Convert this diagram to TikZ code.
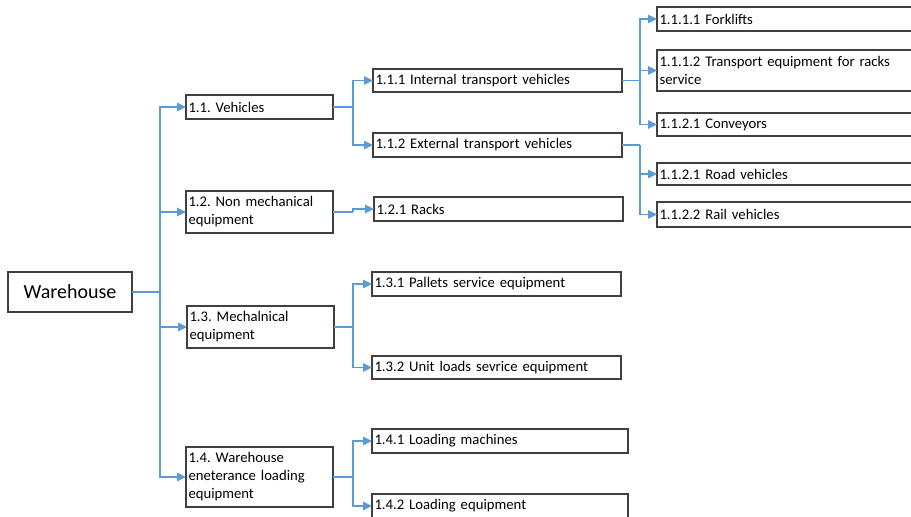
\documentclass[tikz,border=0pt]{standalone}
\usepackage{fontspec}
\setmainfont{Carlito}
\usetikzlibrary{arrows.meta}
\definecolor{cornflower}{RGB}{91, 155, 213}
\definecolor{boxgray}{RGB}{64, 64, 64}
\frenchspacing

\begin{document}
\begin{tikzpicture}[x=1pt, y=-1pt,
    box/.style={draw=boxgray, line width=1.1pt, anchor=north west, outer sep=0pt,
                inner xsep=2.5pt, inner ysep=0pt, align=left,
                font=\fontsize{14.7}{18}\selectfont},
    lone/.style={box, minimum width=147, text width=142pt},
    ltwo/.style={box, minimum width=249, text width=244pt},
    lfour/.style={box, minimum width=256, text width=251pt},
    lthree/.style={box, minimum width=262, text width=257pt},
    link/.style={cornflower, line width=1.4pt},
    arr/.style={link, -{Triangle[length=9pt, width=8.5pt]}}]
            \useasboundingbox (0, 0) rectangle (911, 517);
            % Root
            \node[box, minimum width=124, minimum height=40, align=center,
                  font=\fontsize{20}{24}\selectfont] (wh) at (  8, 272) {Warehouse};
            % Level 1
            \node[lone,  minimum height=24] (n11)  at (186,  95) {1.1. Vehicles};
            \node[lone,  minimum height=42] (n12)  at (186, 191) {1.2. Non mechanical\\equipment};
            \node[lone,  minimum height=42] (n13)  at (187, 306) {1.3. Mechalnical\\equipment};
            \node[lone,  minimum height=60] (n14)  at (186, 447) {1.4. Warehouse\\eneterance loading\\equipment};
            % Level 2
            \node[ltwo,  minimum height=23] (n111) at (373,  69) {1.1.1 Internal transport vehicles};
            \node[ltwo,  minimum height=24] (n112) at (373, 133) {1.1.2 External transport vehicles};
            \node[ltwo,  minimum height=24] (n121) at (374, 197) {1.2.1 Racks};
            \node[ltwo,  minimum height=24] (n131) at (372, 272) {1.3.1 Pallets service equipment};
            \node[ltwo,  minimum height=23] (n132) at (372, 356) {1.3.2 Unit loads sevrice equipment};
            \node[lfour, minimum height=24] (n141) at (372, 429) {1.4.1 Loading machines};
            \node[lfour, minimum height=24] (n142) at (372, 494) {1.4.2 Loading equipment};
            % Level 3
            \node[lthree, minimum height=24] (n1111) at (657,   7) {1.1.1.1 Forklifts};
            \node[lthree, minimum height=41] (n1112) at (657,  50) {1.1.1.2 Transport equipment for racks\\service};
            \node[lthree, minimum height=23] (n1113) at (657, 113) {1.1.2.1 Conveyors};
            \node[lthree, minimum height=22] (n1121) at (657, 163) {1.1.2.1 Road vehicles};
            \node[lthree, minimum height=25] (n1122) at (657, 202) {1.1.2.2 Rail vehicles};
            % Branch points
            \coordinate (b0)  at (160, 292);
            \coordinate (b1)  at (353, 107);
            \coordinate (b2)  at (353, 212);
            \coordinate (b3)  at (353, 327);
            \coordinate (b4)  at (353, 477);
            \coordinate (b11) at (640,  80.5);
            \coordinate (b12) at (640, 145);
            % Root -> level 1
            \draw[link] (wh.east) -- (b0);
            \foreach \n in {n11, n12, n13, n14}
                \draw[arr] (b0) |- (\n.west);
            % Level 1 -> level 2
            \draw[link] (n11.east) -- (b1);
            \draw[arr]  (b1) |- (n111.west);
            \draw[arr]  (b1) |- (n112.west);
            \draw[link] (n12.east) -- (b2);
            \draw[arr]  (b2) |- (n121.west);
            \draw[link] (n13.east) -- (b3);
            \draw[arr]  (b3) |- (n131.west);
            \draw[arr]  (b3) |- (n132.west);
            \draw[link] (n14.east) -- (b4);
            \draw[arr]  (b4) |- (n141.west);
            \draw[arr]  (b4) |- (n142.west);
            % Level 2 -> level 3
            \draw[link] (n111.east) -- (b11);
            \foreach \n in {n1111, n1112, n1113}
                \draw[arr] (b11) |- (\n.west);
            \draw[link] (n112.east) -- (b12);
            \foreach \n in {n1121, n1122}
                \draw[arr] (b12) |- (\n.west);
\end{tikzpicture}
\end{document}
